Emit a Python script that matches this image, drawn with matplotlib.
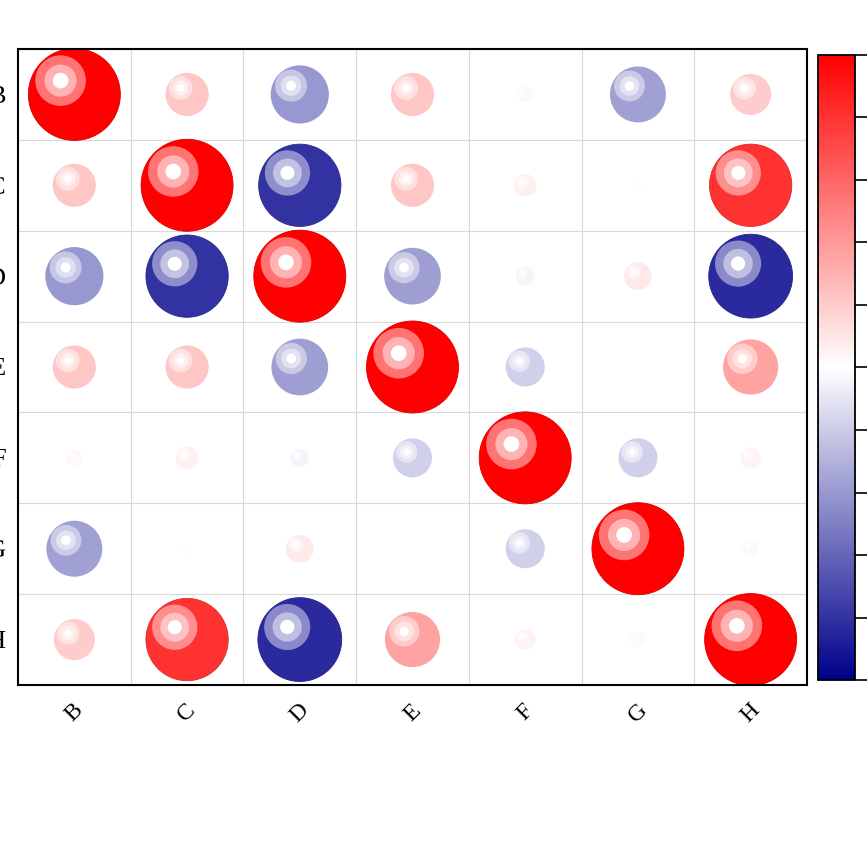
import numpy as np
import matplotlib
matplotlib.use("Agg")
import matplotlib.pyplot as plt
from matplotlib.patches import Ellipse
from matplotlib.colors import LinearSegmentedColormap, Normalize, to_rgb
from matplotlib.cm import ScalarMappable

plt.rcParams['font.family'] = ['Liberation Serif', 'DejaVu Serif']

# variable names and correlation matrix
labels = ["B", "C", "D", "E", "F", "G", "H"]
row_B = [1.00, 0.22, -0.40, 0.22, 0.03, -0.37, 0.20]
row_C = [0.22, 1.00, -0.80, 0.22, 0.06, 0.01, 0.80]
row_D = [-0.40, -0.80, 1.00, -0.38, -0.04, 0.09, -0.83]
row_E = [0.22, 0.22, -0.38, 1.00, -0.18, 0.00, 0.36]
row_F = [0.03, 0.06, -0.04, -0.18, 1.00, -0.18, 0.05]
row_G = [-0.37, 0.01, 0.09, 0.00, -0.18, 1.00, 0.03]
row_H = [0.20, 0.80, -0.83, 0.36, 0.05, 0.03, 1.00]
corr = np.array([row_B, row_C, row_D, row_E, row_F, row_G, row_H])

cmap = LinearSegmentedColormap.from_list("bwr_dark", ["#00008B", "#FFFFFF", "#FF0000"])
norm = Normalize(-1, 1)

W, H = 867, 865
fig = plt.figure(figsize=(W / 100, H / 100), dpi=100)
# axes placed in pixel terms: left 18, right 807, top 49, bottom 685
ax = fig.add_axes([18 / W, (H - 685) / H, 789 / W, 636 / H])
n = len(labels)
ax.set_xlim(0, n)
ax.set_ylim(n, 0)

px_x = 789 / n  # pixels per data unit
px_y = 636 / n
max_d = 92.0    # diameter of a |r|=1 sphere, pixels


def blend(c, t):
    c = np.array(c)
    return tuple(c + (1 - c) * t)


for i in range(n):
    for j in range(n):
        r = corr[i, j]
        d = max_d * np.sqrt(abs(r))
        if d < 1:
            continue
        base = to_rgb(cmap(norm(r)))
        cx, cy = j + 0.5, i + 0.5
        if abs(r) > 0.5:
            edge, lw = tuple(np.array(base) * 0.85), 0.6
        else:
            edge, lw = "none", 0
        ax.add_patch(Ellipse((cx, cy), d / px_x, d / px_y, facecolor=base,
                             edgecolor=edge, lw=lw, zorder=3))
        R = d / 2
        hx = cx - 0.3 * R / px_x
        hy = cy - 0.3 * R / px_y
        for frac, t in [(0.55, 0.45), (0.35, 0.7), (0.17, 1.0)]:
            rr = 2 * frac * R
            ax.add_patch(Ellipse((hx, hy), rr / px_x, rr / px_y,
                                 facecolor=blend(base, t), edgecolor="none", zorder=4))

ax.set_xticks(np.arange(n) + 0.5)
ax.set_yticks(np.arange(n) + 0.5)
ax.set_xticklabels(labels, rotation=45, ha="center", va="center", fontsize=17)
ax.set_yticklabels(labels, fontsize=19)
ax.set_xticks(np.arange(1, n), minor=True)
ax.set_yticks(np.arange(1, n), minor=True)
ax.grid(which="minor", color="#d9d9d9", lw=0.8, zorder=0)
ax.tick_params(which="both", length=0)
ax.tick_params(axis="x", pad=20)
ax.tick_params(axis="y", pad=9)
for s in ax.spines.values():
    s.set_linewidth(1.5)
    s.set_color("black")
    s.set_zorder(5)

# colorbar
cax = fig.add_axes([818 / W, (H - 680) / H, 37 / W, 625 / H])
cb = fig.colorbar(ScalarMappable(norm=norm, cmap=cmap), cax=cax,
                  ticks=np.round(np.arange(-1, 1.01, 0.2), 1))
cb.outline.set_linewidth(1.3)
cax.tick_params(length=9, width=1.2, labelsize=19)

fig.savefig("out.png", dpi=100)
